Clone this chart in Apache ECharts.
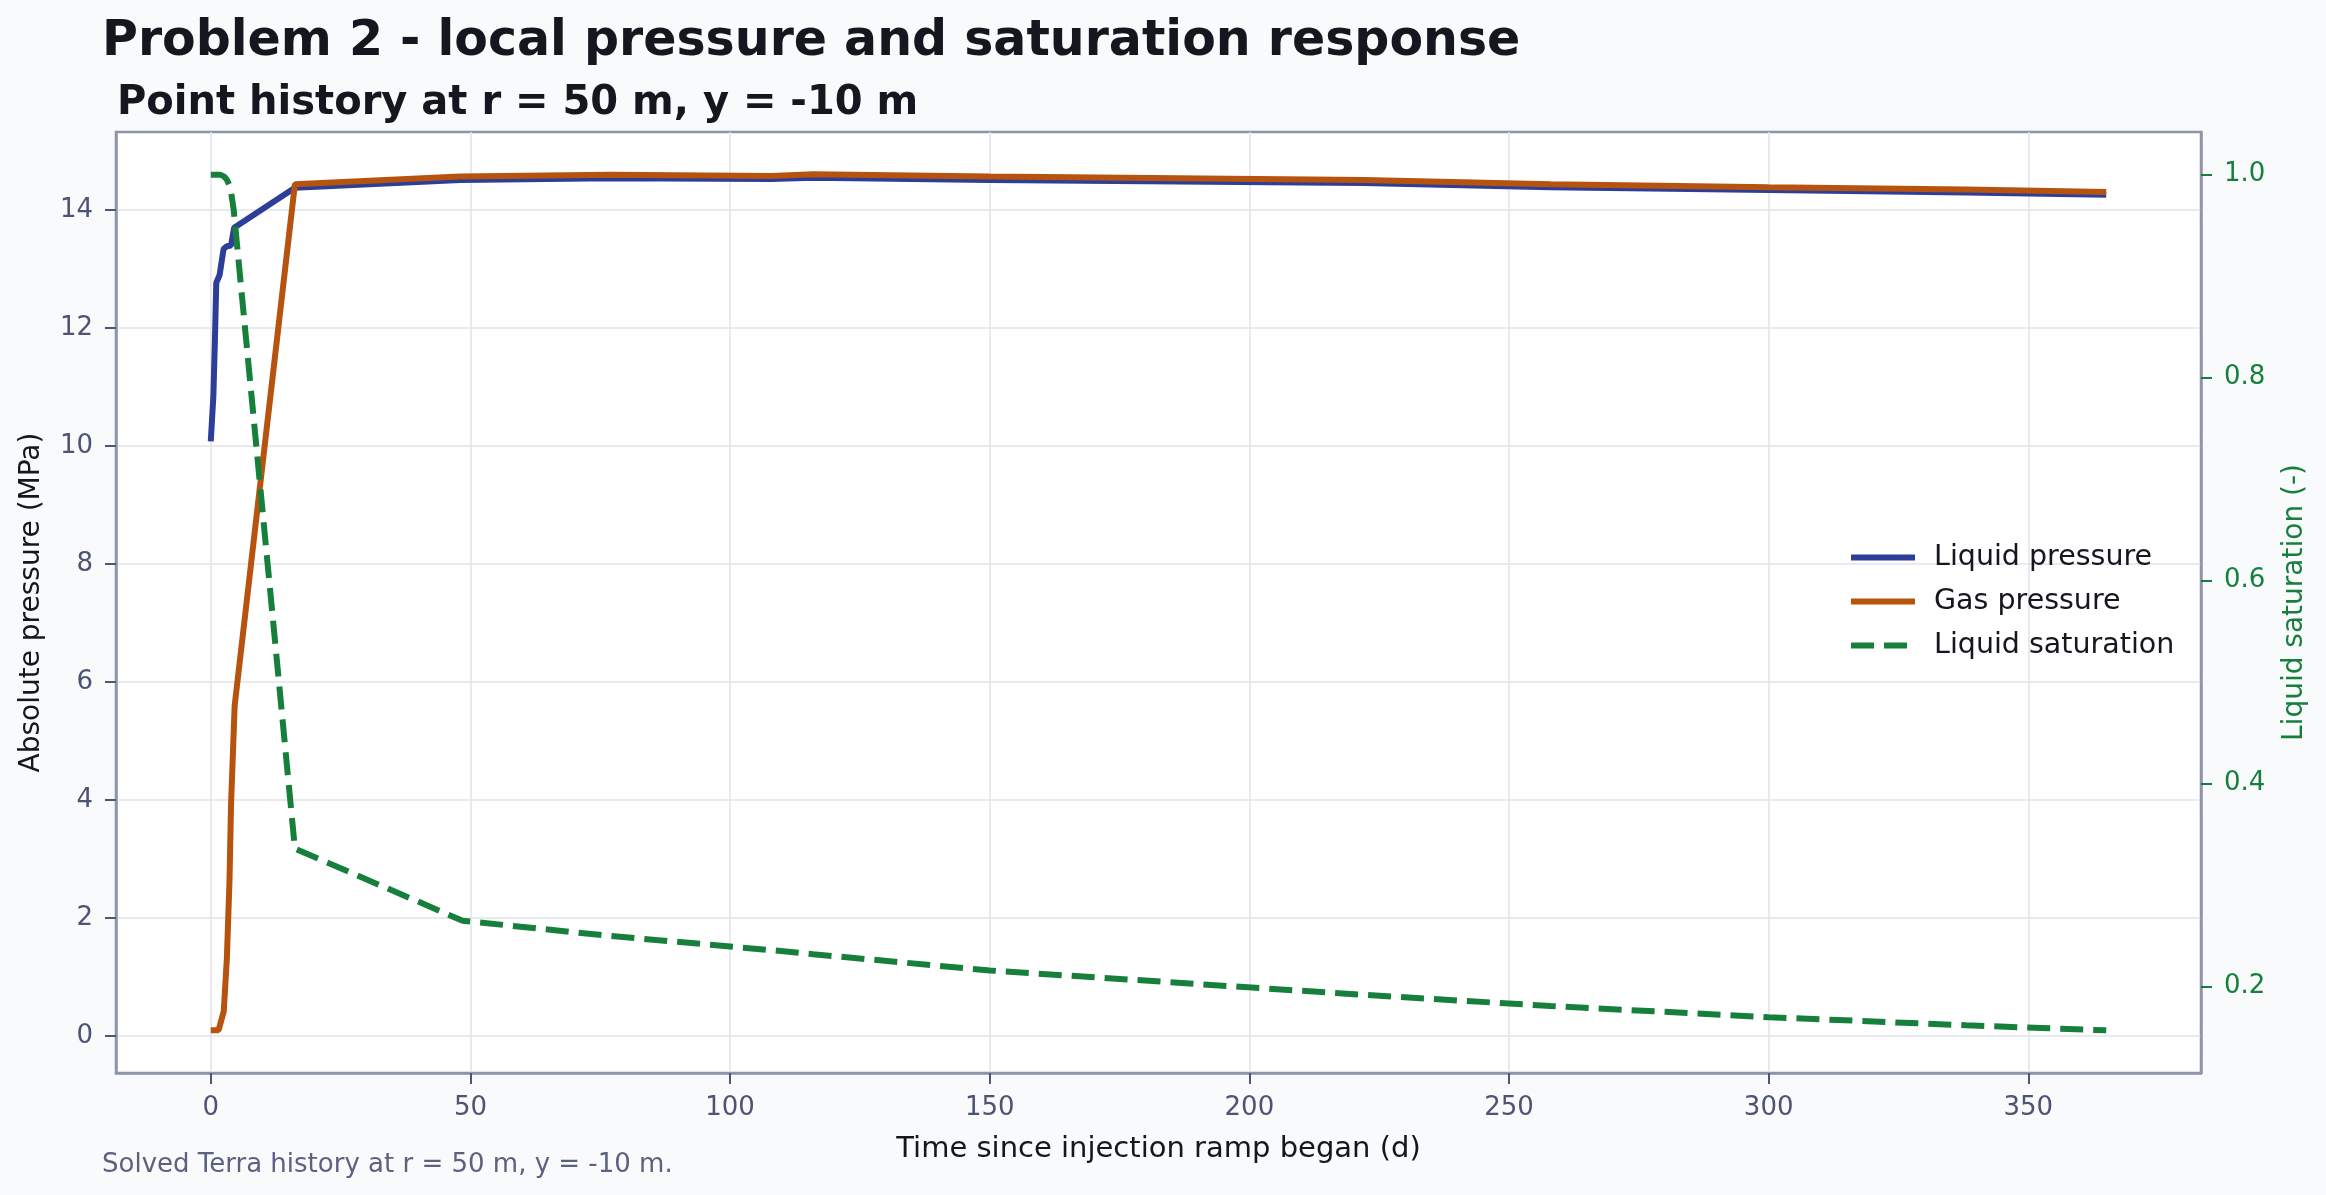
<!DOCTYPE html>
<html>
<head>
<meta charset="utf-8">
<script src="https://cdn.jsdelivr.net/npm/echarts@6/dist/echarts.min.js"></script>
<style>
html,body{margin:0;padding:0;background:#f9fafc;}
#chart{width:2326px;height:1195px;}
</style>
</head>
<body>
<div id="chart"></div>
<script>
// ---- data (time in days) ----
const liquidTime     = [0, 0.5, 0.8, 1.06, 1.7, 2.46, 3.1, 3.9, 4.5, 16.2, 48, 77, 108, 116, 150, 222, 258, 300, 338, 365];
const liquidPressure = [10.08, 10.85, 11.8, 12.77, 12.9, 13.34, 13.39, 13.4, 13.7, 14.38, 14.51, 14.54, 14.53, 14.55, 14.51, 14.46, 14.39, 14.34, 14.30, 14.26];

const gasTime     = [0, 1.5, 2.5, 3.1, 3.6, 3.9, 4.6, 16.2, 48, 77, 108, 116, 150, 222, 258, 300, 338, 365];
const gasPressure = [0.1, 0.1, 0.42, 1.32, 2.62, 3.92, 5.6, 14.44, 14.57, 14.60, 14.58, 14.61, 14.57, 14.51, 14.44, 14.39, 14.35, 14.31];

const satTime    = [0, 1.8, 2.6, 3.1, 3.75, 4.4, 16.2, 48.5, 77, 108, 116, 150, 222, 258, 300, 338, 365];
const saturation = [1.0, 1.0, 0.998, 0.995, 0.988, 0.966, 0.336, 0.265, 0.250, 0.236, 0.232, 0.216, 0.192, 0.181, 0.170, 0.162, 0.157];

const xTicks          = [0, 50, 100, 150, 200, 250, 300, 350];
const pressureTicks   = [0, 2, 4, 6, 8, 10, 12, 14];
const saturationTicks = [0.2, 0.4, 0.6, 0.8, 1.0];

const titleText    = 'Problem 2 - local pressure and saturation response';
const subtitleText = 'Point history at r = 50 m, y = -10 m';
const footnoteText = 'Solved Terra history at r = 50 m, y = -10 m.';

function pairs(xs, ys) { return xs.map((x, i) => [x, ys[i]]); }

const FONT = 'DejaVu Sans';
const frameColor = '#8e94ab';
const tickColor = '#4f5572';
const tickTextColor = '#4d5473';
const gridColor = '#e2e3eb';
const green = '#177f3c';
const blue = '#2d3e99';
const orange = '#b5530f';
const LW = 6;

const frameLine = {show: true, onZero: false, lineStyle: {color: frameColor, width: 2.5}};

const chart = echarts.init(document.getElementById('chart'), null, {renderer: 'canvas'});
chart.setOption({
  backgroundColor: '#f9fafc',
  animation: false,
  title: [
    {text: titleText, left: 97, top: 13,
     textStyle: {fontFamily: FONT, fontWeight: 'bold', fontSize: 49, color: '#15161e'}},
    {text: subtitleText, left: 112, top: 79,
     textStyle: {fontFamily: FONT, fontWeight: 'bold', fontSize: 40, color: '#15161e'}},
    {text: footnoteText, left: 97, top: 1147,
     textStyle: {fontFamily: FONT, fontWeight: 'normal', fontSize: 26, color: '#5c6180'}}
  ],
  grid: {left: 116, right: 125, top: 132, bottom: 122, show: true,
         backgroundColor: '#ffffff', borderColor: frameColor, borderWidth: 2.5},
  legend: {
    orient: 'vertical', left: 1843, top: 538, itemWidth: 64, itemHeight: 14, itemGap: 15,
    itemStyle: {color: 'transparent', borderColor: 'transparent', borderWidth: 0},
    lineStyle: {width: LW},
    textStyle: {fontFamily: FONT, fontSize: 28.5, color: '#15161e', padding: [0, 0, 0, 14]},
    data: ['Liquid pressure', 'Gas pressure', 'Liquid saturation']
  },
  xAxis: {
    type: 'value', min: -18.25, max: 383.25,
    name: 'Time since injection ramp began (d)', nameLocation: 'middle', nameGap: 62,
    nameTextStyle: {fontFamily: FONT, fontSize: 29, color: '#15161e'},
    axisLine: frameLine,
    axisTick: {show: true, inside: false, length: 11, customValues: xTicks, lineStyle: {color: tickColor, width: 2}},
    axisLabel: {customValues: xTicks, margin: 22, fontFamily: FONT, fontSize: 26, color: tickTextColor},
    splitLine: {show: true, lineStyle: {color: gridColor, width: 1.5}}
  },
  yAxis: [
    {
      type: 'value', min: -0.625, max: 15.325,
      name: 'Absolute pressure (MPa)', nameLocation: 'middle', nameGap: 70,
      nameTextStyle: {fontFamily: FONT, fontSize: 28, color: '#15161e'},
      axisLine: frameLine,
      axisTick: {show: true, inside: false, length: 11, customValues: pressureTicks, lineStyle: {color: tickColor, width: 2}},
      axisLabel: {customValues: pressureTicks, margin: 23, fontFamily: FONT, fontSize: 26, color: tickTextColor},
      splitLine: {show: true, lineStyle: {color: gridColor, width: 1.5}}
    },
    {
      type: 'value', min: 0.115, max: 1.042, position: 'right',
      name: 'Liquid saturation (-)', nameLocation: 'middle', nameGap: 80,
      nameTextStyle: {fontFamily: FONT, fontSize: 28, color: green},
      axisLine: frameLine,
      axisTick: {show: true, inside: false, length: 11, customValues: saturationTicks, lineStyle: {color: green, width: 2}},
      axisLabel: {customValues: saturationTicks, margin: 23, fontFamily: FONT, fontSize: 26, color: green,
                  formatter: v => v.toFixed(1)},
      splitLine: {show: false}
    }
  ],
  series: [
    {name: 'Liquid pressure', type: 'line', yAxisIndex: 0, data: pairs(liquidTime, liquidPressure),
     symbol: 'none', lineStyle: {color: blue, width: LW}, itemStyle: {color: blue}},
    {name: 'Gas pressure', type: 'line', yAxisIndex: 0, data: pairs(gasTime, gasPressure),
     symbol: 'none', lineStyle: {color: orange, width: LW}, itemStyle: {color: orange}},
    {name: 'Liquid saturation', type: 'line', yAxisIndex: 1, data: pairs(satTime, saturation),
     symbol: 'none', lineStyle: {color: green, width: LW, type: [23, 10]}, itemStyle: {color: green}}
  ]
});
</script>
</body>
</html>
